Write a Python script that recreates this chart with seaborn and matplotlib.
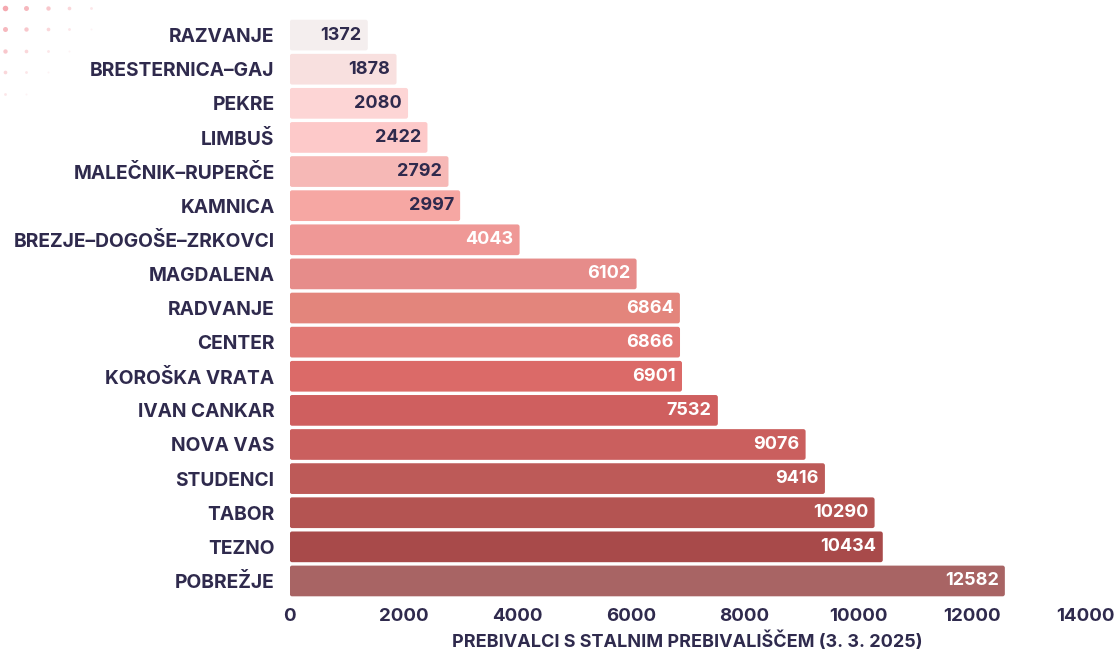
import numpy as np
import pandas as pd
import matplotlib
matplotlib.use("Agg")
import matplotlib.pyplot as plt
from matplotlib.patches import FancyBboxPatch
import seaborn as sns

# -------------------------------------------------------------------
# Data
# -------------------------------------------------------------------

districts = [
    "RAZVANJE", "BRESTERNICA–GAJ", "PEKRE", "LIMBUŠ", "MALEČNIK–RUPERČE",
    "KAMNICA", "BREZJE–DOGOŠE–ZRKOVCI", "MAGDALENA", "RADVANJE", "CENTER",
    "KOROŠKA VRATA", "IVAN CANKAR", "NOVA VAS", "STUDENCI", "TABOR",
    "TEZNO", "POBREŽJE",
]
residents = [1372, 1878, 2080, 2422, 2792, 2997, 4043, 6102, 6864, 6866,
             6901, 7532, 9076, 9416, 10290, 10434, 12582]
bar_colors = [
    "#f4eeee", "#f8e0df", "#fdd5d5", "#fdc9c9", "#f6b8b6", "#f6a7a3",
    "#ef9896", "#e68c8a", "#e3857c", "#e27a76", "#db6a68", "#cf5f5f",
    "#ca5f5e", "#bd5a58", "#b45452", "#a84a4a", "#a86464",
]
x_ticks = [0, 2000, 4000, 6000, 8000, 10000, 12000, 14000]
x_label = "PREBIVALCI S STALNIM PREBIVALIŠČEM (3. 3. 2025)"

df = pd.DataFrame({"district": districts, "residents": residents})

TEXT = "#2f2a4d"

sns.set_style("white")
plt.rcParams["font.family"] = ["Inter", "DejaVu Sans"]

fig = plt.figure(figsize=(11.19, 6.53), dpi=100)
ax = fig.add_axes([0.259, 0.0842, 0.711, 0.8882])

sns.barplot(data=df, x="residents", y="district", hue="district",
            palette=bar_colors, legend=False, width=0.9, ax=ax,
            saturation=1)

# rounded corners on the bars
for patch in list(ax.patches):
    x0, y0 = patch.get_x(), patch.get_y()
    w, h = patch.get_width(), patch.get_height()
    fc = patch.get_facecolor()
    patch.remove()
    ax.add_patch(FancyBboxPatch((x0, y0), w, h,
                                boxstyle="round,pad=0,rounding_size=40",
                                mutation_aspect=1 / 600,
                                facecolor=fc, edgecolor="none"))

for i, v in enumerate(residents):
    col = TEXT if i < 6 else "white"
    ax.text(v - 110, i, f"{v}", ha="right", va="center", color=col,
            fontsize=13, fontweight="bold")

ax.set_xlim(0, 14000)
ax.set_ylim(16.5, -0.5)
ax.set_xticks(x_ticks)
ax.set_xticklabels([str(t) for t in x_ticks])
ax.set_ylabel("")
ax.set_xlabel(x_label, fontsize=13, fontweight="bold", color=TEXT,
              labelpad=5)
ax.tick_params(axis="both", length=0, colors=TEXT, labelsize=13.5)
ax.tick_params(axis="y", pad=11, labelsize=13.8)
ax.tick_params(axis="x", pad=7)
for lab in ax.get_xticklabels() + ax.get_yticklabels():
    lab.set_fontweight("bold")
sns.despine(ax=ax, left=True, bottom=True)

# decorative dot grid, top-left
dot_ax = fig.add_axes([0, 0.84, 0.09, 0.16])
dot_ax.set_xlim(0, 100)
dot_ax.set_ylim(104, 0)
dot_ax.axis("off")
for r in range(5):
    for c in range(5):
        k = r + c
        if k > 5:
            continue
        s = max(2, 16 - 3.0 * k)
        a = max(0.12, 0.9 - 0.16 * k)
        dot_ax.scatter(5 + 21.3 * c, 8 + 21.3 * r, s=s,
                       color="#f4a0a8", alpha=a, linewidths=0)

fig.savefig("out.png", dpi=100)
